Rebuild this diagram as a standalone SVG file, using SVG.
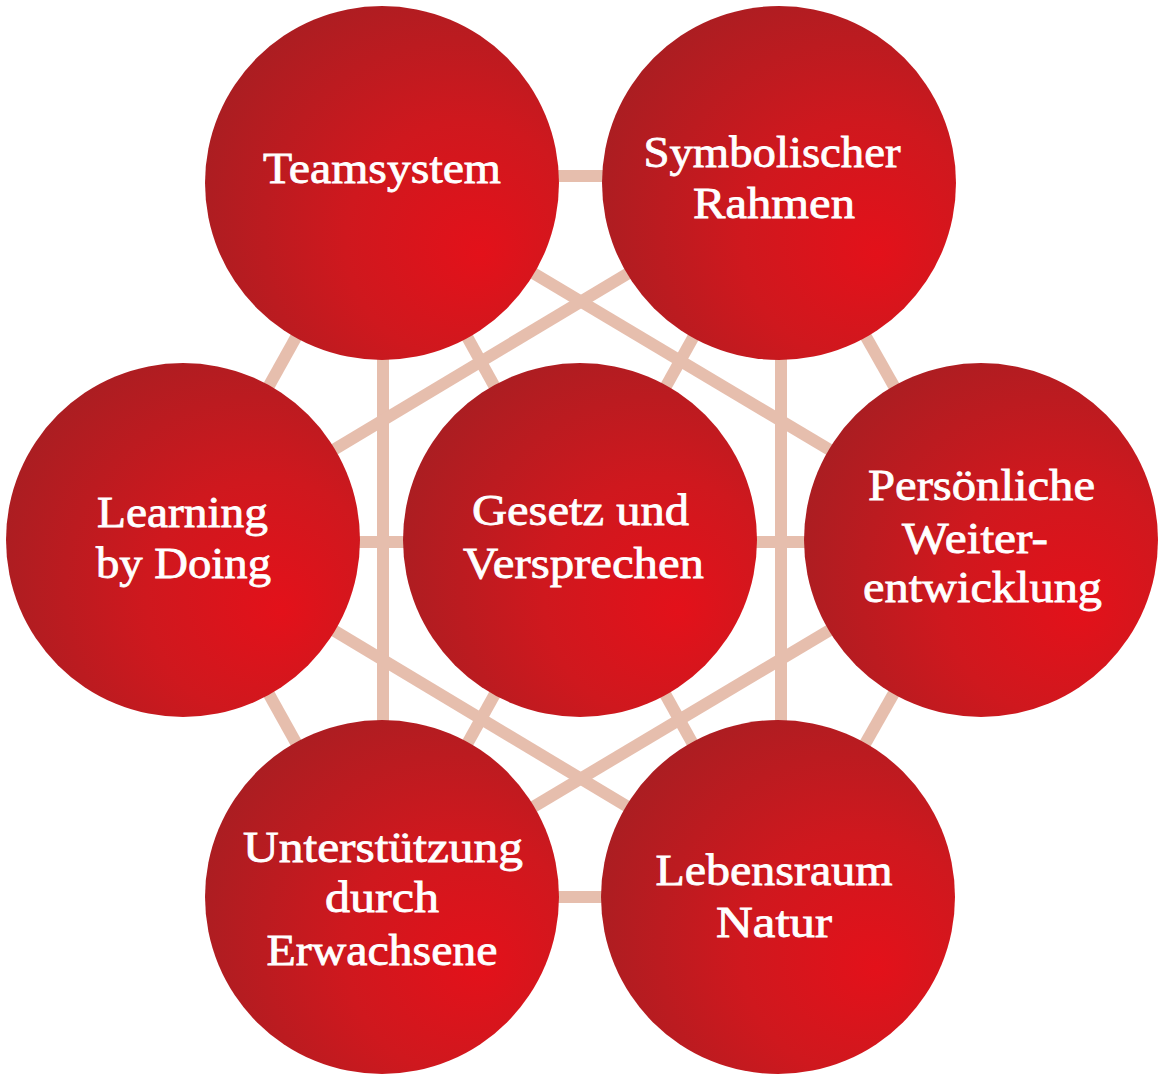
<svg xmlns="http://www.w3.org/2000/svg" width="1162" height="1082" viewBox="0 0 1162 1082">
<style>
.c{fill:url(#rg);}
.t{font-family:"Liberation Serif","Times New Roman",serif;font-size:44px;fill:#ffffff;stroke:#ffffff;stroke-width:0.8;text-anchor:middle;}
#connectors line{stroke:#e6bead;stroke-width:12;stroke-linecap:butt;}
</style>
<defs>
<radialGradient id="rg" cx="0.68" cy="0.62" r="0.75" fx="0.78" fy="0.7">
<stop offset="0" stop-color="#e3111a"/>
<stop offset="0.45" stop-color="#cf181e"/>
<stop offset="1" stop-color="#a81e22"/>
</radialGradient>
</defs>
<rect width="1162" height="1082" fill="#ffffff"/>
<g id="connectors">
<line x1="382" y1="176" x2="779" y2="176"/>
<line x1="779" y1="183" x2="981" y2="540"/>
<line x1="981" y1="540" x2="778" y2="897"/>
<line x1="382" y1="897" x2="778" y2="897"/>
<line x1="382" y1="897" x2="183" y2="540"/>
<line x1="183" y1="540" x2="382" y2="183"/>
<line x1="580" y1="541" x2="382" y2="183"/>
<line x1="580" y1="541" x2="779" y2="183"/>
<line x1="183" y1="542" x2="981" y2="542"/>
<line x1="580" y1="541" x2="382" y2="897"/>
<line x1="580" y1="541" x2="778" y2="897"/>
<line x1="382" y1="183" x2="981" y2="540"/>
<line x1="981" y1="540" x2="382" y2="897"/>
<line x1="383" y1="183" x2="383" y2="897"/>
<line x1="779" y1="183" x2="183" y2="540"/>
<line x1="183" y1="540" x2="778" y2="897"/>
<line x1="781" y1="183" x2="781" y2="897"/>
</g>
<g id="teamsystem">
<circle class="c" cx="382" cy="183" r="177"/>
<text class="t" x="382" y="183" textLength="238" lengthAdjust="spacingAndGlyphs">Teamsystem</text>
</g>
<g id="symbolischer-rahmen">
<circle class="c" cx="779" cy="183" r="177"/>
<text class="t" x="772" y="167" textLength="257" lengthAdjust="spacingAndGlyphs">Symbolischer</text>
<text class="t" x="774" y="218" textLength="162" lengthAdjust="spacingAndGlyphs">Rahmen</text>
</g>
<g id="learning-by-doing">
<circle class="c" cx="183" cy="540" r="177"/>
<text class="t" x="182.5" y="527" textLength="171" lengthAdjust="spacingAndGlyphs">Learning</text>
<text class="t" x="183.5" y="578" textLength="175" lengthAdjust="spacingAndGlyphs">by Doing</text>
</g>
<g id="gesetz-und-versprechen">
<circle class="c" cx="580" cy="540" r="177"/>
<text class="t" x="580.5" y="525" textLength="217" lengthAdjust="spacingAndGlyphs">Gesetz und</text>
<text class="t" x="583.5" y="578" textLength="241" lengthAdjust="spacingAndGlyphs">Versprechen</text>
</g>
<g id="persoenliche-weiterentwicklung">
<circle class="c" cx="981" cy="540" r="177"/>
<text class="t" x="981.5" y="500" textLength="227" lengthAdjust="spacingAndGlyphs">Persönliche</text>
<text class="t" x="975" y="553" textLength="146" lengthAdjust="spacingAndGlyphs">Weiter-</text>
<text class="t" x="982.5" y="602" textLength="239" lengthAdjust="spacingAndGlyphs">entwicklung</text>
</g>
<g id="unterstuetzung-durch-erwachsene">
<circle class="c" cx="382" cy="897" r="177"/>
<text class="t" x="383" y="862" textLength="280" lengthAdjust="spacingAndGlyphs">Unterstützung</text>
<text class="t" x="382" y="912" textLength="114" lengthAdjust="spacingAndGlyphs">durch</text>
<text class="t" x="382" y="965" textLength="231" lengthAdjust="spacingAndGlyphs">Erwachsene</text>
</g>
<g id="lebensraum-natur">
<circle class="c" cx="778" cy="897" r="177"/>
<text class="t" x="774" y="885" textLength="237" lengthAdjust="spacingAndGlyphs">Lebensraum</text>
<text class="t" x="774" y="937" textLength="116" lengthAdjust="spacingAndGlyphs">Natur</text>
</g>
</svg>
